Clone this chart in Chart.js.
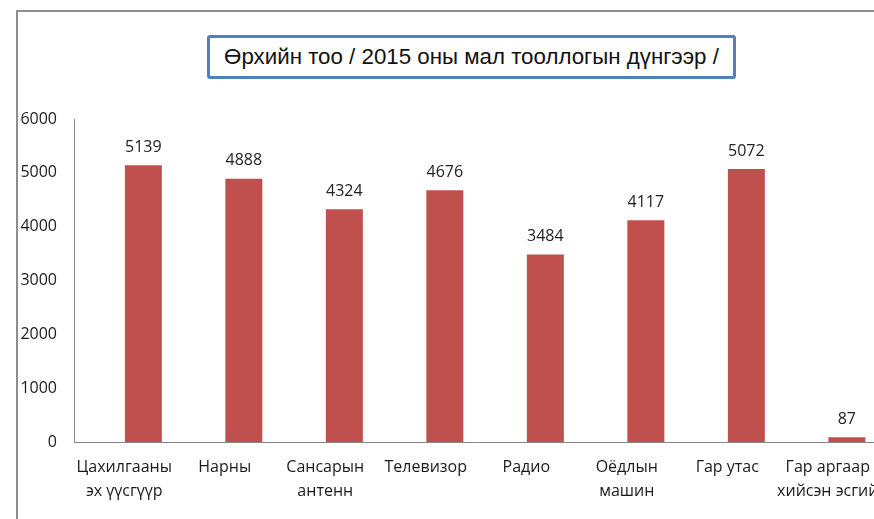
<!DOCTYPE html>
<html>
<head>
<meta charset="utf-8">
<script src="https://cdn.jsdelivr.net/npm/chart.js@4.4.2/dist/chart.umd.min.js"></script>
<style>
  html, body { margin: 0; padding: 0; background: #fff; overflow: hidden; }
  #wrap { position: relative; width: 874px; height: 519px; }
  #frame { position: absolute; left: 16px; top: 10px; width: 920px; height: 600px; border: 2px solid #8e8e8e; }
  #title {
    position: absolute; left: 207px; top: 35px; width: 529px; height: 44px;
    box-sizing: border-box; border: 3px solid #4F81BD; border-radius: 3px; background: #fff;
    font: 22.3px "Liberation Sans", Arial, sans-serif; color: #111;
    display: flex; align-items: center; justify-content: center; white-space: nowrap;
  }
  canvas { position: absolute; left: 0; top: 0; }
</style>
</head>
<body>
<div id="wrap">
  <div id="frame"></div>
  <canvas id="grafico" width="874" height="519"></canvas>
  <div id="title">Өрхийн тоо / 2015 оны мал тооллогын дүнгээр /</div>
</div>
<script>
// Датаны хэсэг
const categories = [
  ['Цахилгааны', 'эх үүсгүүр'],
  'Нарны',
  ['Сансарын', 'антенн'],
  'Телевизор',
  'Радио',
  ['Оёдлын', 'машин'],
  'Гар утас',
  ['Гар аргаар', 'хийсэн эсгий']
];
const households = [5139, 4888, 4324, 4676, 3484, 4117, 5072, 87];
const yTicks = [0, 1000, 2000, 3000, 4000, 5000, 6000];

const fontName = '"Open Sans", sans-serif';
// Excel дээр нэрс баганаасаа бага зэрэг зүүн тийш байрласан
const labelShift = -0.19;

// bar-ийн дээр утгыг бичих
const valueLabels = {
  id: 'valueLabels',
  afterDatasetsDraw(chart) {
    const ctx = chart.ctx;
    const meta = chart.getDatasetMeta(0);
    ctx.save();
    ctx.font = '16px ' + fontName;
    ctx.fillStyle = '#222';
    ctx.textAlign = 'center';
    ctx.textBaseline = 'bottom';
    meta.data.forEach((bar, i) => {
      ctx.fillText(String(households[i]), bar.x, bar.y - 10);
    });
    ctx.restore();
  }
};

new Chart(document.getElementById('grafico').getContext('2d'), {
  type: 'bar',
  data: {
    datasets: [{
      data: households.map((v, i) => ({ x: i, y: v })),
      backgroundColor: '#C0504D',
      borderWidth: 0,
      categoryPercentage: 0.8,
      barPercentage: 0.46
    }]
  },
  options: {
    responsive: false,
    animation: false,
    layout: { padding: { top: 119, left: 0, right: 0, bottom: 0 } },
    plugins: {
      legend: { display: false },
      tooltip: { enabled: false },
      title: { display: false }
    },
    scales: {
      x: {
        type: 'linear',
        offset: false,
        min: -0.69,
        max: 7.27,
        grid: { display: false, drawTicks: false },
        border: { display: true, color: '#868686', width: 1 },
        afterBuildTicks: (scale) => {
          scale.ticks = categories.map((c, i) => ({ value: i + labelShift }));
        },
        afterFit: (scale) => {
          scale.height = 77;
          scale.paddingLeft = 0;
          scale.paddingRight = 0;
        },
        ticks: {
          autoSkip: false,
          maxRotation: 0,
          minRotation: 0,
          padding: 13,
          color: '#1a1a1a',
          font: { family: fontName, size: 16, lineHeight: 1.5 },
          callback: (value, index) => categories[index]
        }
      },
      y: {
        min: 0,
        max: 6000,
        grid: { display: false, drawTicks: false },
        border: { display: true, color: '#868686', width: 1 },
        afterBuildTicks: (scale) => {
          scale.ticks = yTicks.map(v => ({ value: v }));
        },
        afterFit: (scale) => { scale.width = 74; },
        ticks: {
          padding: 17,
          color: '#1a1a1a',
          font: { family: fontName, size: 16 },
          callback: (value) => String(value)
        }
      }
    }
  },
  plugins: [valueLabels]
});
</script>
</body>
</html>
